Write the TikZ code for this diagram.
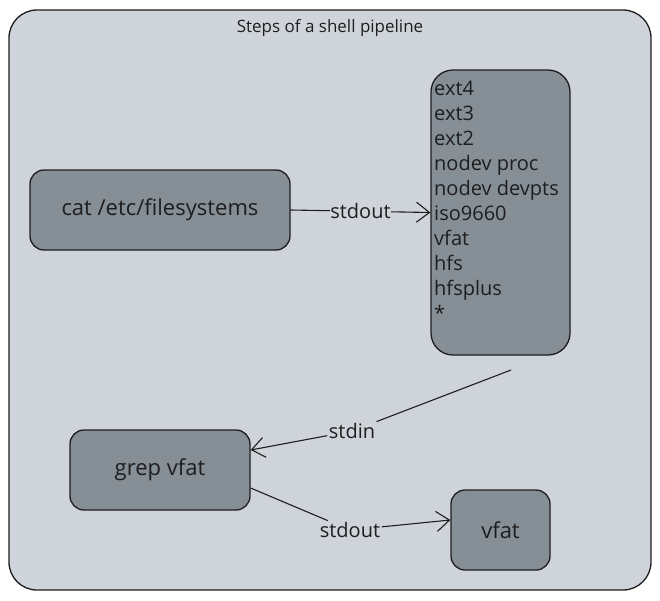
\documentclass[tikz,border=0pt]{standalone}
\usepackage{fontspec}
\setmainfont{Open Sans}
\usetikzlibrary{arrows.meta}
\definecolor{cont}{HTML}{CED4DA}
\definecolor{boxf}{HTML}{868E96}
\definecolor{ink}{HTML}{1E1E1E}
\begin{document}
\begin{tikzpicture}[x=1pt,y=-1pt,
  box/.style={draw=ink, line width=1.3pt, fill=boxf, rounded corners=14pt, inner sep=0pt},
  boxtxt/.style={font=\fontsize{22}{22}\selectfont, text=ink},
  listtxt/.style={font=\fontsize{20}{20}\selectfont, text=ink, anchor=base west, inner sep=0pt},
  lbl/.style={font=\fontsize{20}{20}\selectfont, text=ink, inner sep=1.5pt},
  conn/.style={draw=ink, line width=1.1pt},
  arr/.style={conn, -{Straight Barb[length=13pt,width=20pt,line width=1.1pt]}}]
\useasboundingbox (0,0) rectangle (660,600);
\fill[white] (0,0) rectangle (660,600);
\node[draw=ink, line width=1.3pt, fill=cont, rounded corners=28pt,
      minimum width=642pt, minimum height=580pt, inner sep=0pt] (frame) at (330,300) {};
\node[font=\fontsize{17}{17}\selectfont, text=ink] (title) at (330,28) {Steps of a shell pipeline};

\node[box, minimum width=260pt, minimum height=80pt, boxtxt] (cat) at (160,210) {cat /etc/filesystems};
\node[box, rounded corners=22pt, minimum width=139pt, minimum height=285pt] (list) at (500.5,212.5) {};
\foreach \t [count=\i] in {ext4,ext3,ext2,nodev proc,nodev devpts,iso9660,vfat,hfs,hfsplus,*}
  \node[listtxt] (l\i) at (434,70+25*\i) {\t};
\node[box, minimum width=180pt, minimum height=80pt, boxtxt] (grep) at (160,470) {grep vfat};
\node[box, minimum width=99pt, minimum height=80pt, boxtxt] (vfat) at (500.5,530) {vfat};

\draw[arr] (cat.east) -- node[lbl, fill=cont, inner sep=0.5pt] (so1) {stdout} (list.west);

\coordinate (s0) at (511,370);
\node[lbl] (si) at (352,431) {stdin};
\draw[conn] (s0) -- (si);
\draw[arr] (si) -- ([yshift=20pt]grep.east);

\node[lbl] (so2) at (350,530) {stdout};
\draw[conn] ([yshift=-18pt]grep.east) -- (so2);
\draw[arr] (so2) -- ([yshift=10pt]vfat.west);
\end{tikzpicture}
\end{document}
